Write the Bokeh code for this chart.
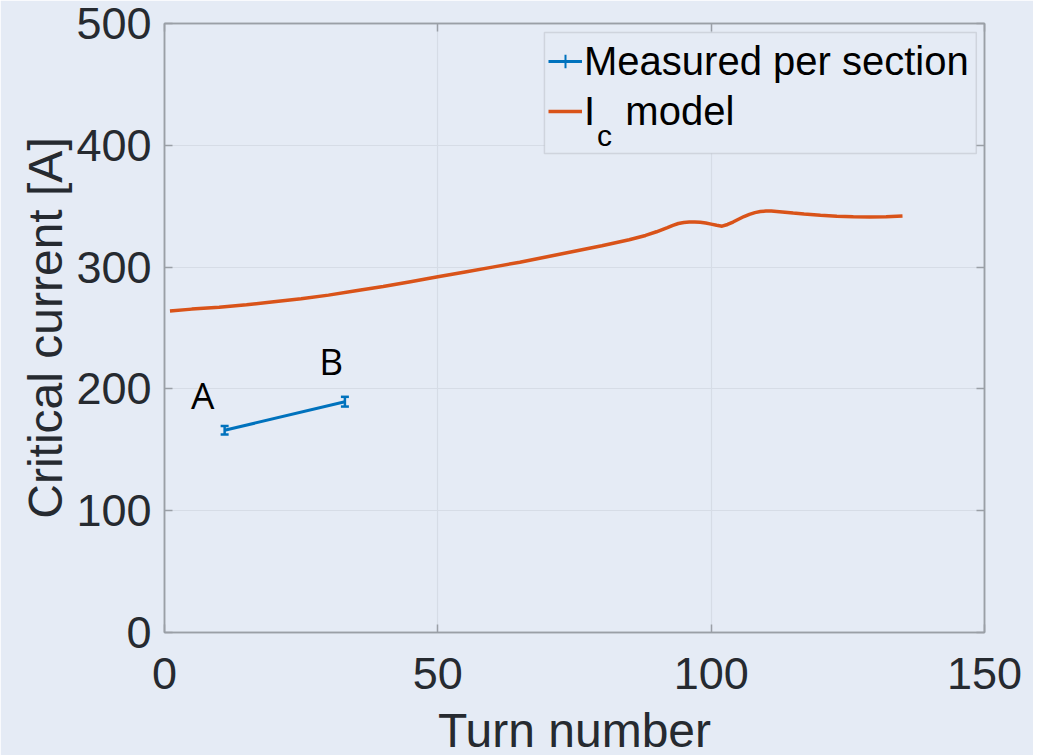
import numpy as np
from bokeh.plotting import figure
from bokeh.models import (ColumnDataSource, Whisker, TeeHead, Legend, LegendItem,
                          LinearAxis, Range1d, Label, FixedTicker, BoxAnnotation)
from bokeh.core.properties import value
from bokeh.embed import file_html
from bokeh.resources import INLINE

# ---- data ----
meas_turn = [11, 33]
meas_ic = [166, 189.5]
meas_err = [3.5, 4.0]

model_turn = [1, 5, 10, 15, 20, 25, 30, 35, 40, 45, 50, 55, 60, 65, 70, 75, 80, 85, 88,
              90, 92, 93, 94, 95, 96, 97, 98, 99, 100, 101, 102, 103, 104, 105, 106, 107,
              108, 109, 110, 111, 113, 115, 117, 120, 123, 126, 129, 132, 135]
model_ic = [264, 265.5, 267, 269, 271.5, 274, 277, 280.5, 284, 288, 292, 296, 300, 304,
            308.5, 313, 317.5, 322.5, 326, 329, 332.5, 334.3, 335.8, 336.6, 337, 337,
            336.8, 336.2, 335.3, 334.3, 333.6, 335, 337, 339.3, 341.5, 343.3, 344.7,
            345.6, 346, 346, 345.3, 344.4, 343.6, 342.6, 341.8, 341.3, 341.1, 341.3, 342]

x_ticks = [0, 50, 100, 150]
y_ticks = [0, 100, 200, 300, 400, 500]

point_labels = ["A", "B"]
point_label_x = [7, 30.5]
point_label_y = [195.5, 223.5]

# ---- styles ----
BG = "#e5ebf5"
AX = "#9a9fa6"
TXT = "#262a30"
GRID = "#d6dce6"
BLUE = "#0072bd"
ORANGE = "#d95319"
FONT = "Liberation Sans"

p = figure(frame_width=820, frame_height=609,
           x_range=Range1d(0, 150), y_range=Range1d(0, 500),
           output_backend="svg", toolbar_location=None,
           background_fill_color=BG, border_fill_color=BG,
           min_border_left=164, min_border_top=23, min_border_right=49,
           min_border_bottom=120)
p.outline_line_color = AX
p.outline_line_width = 1.5

p.xaxis.ticker = FixedTicker(ticks=x_ticks)
p.yaxis.ticker = FixedTicker(ticks=y_ticks)
for ax in (p.xaxis[0], p.yaxis[0]):
    ax.axis_line_color = AX
    ax.axis_line_width = 1.5
    ax.major_tick_line_color = AX
    ax.major_tick_line_width = 1.5
    ax.major_tick_in = 8
    ax.major_tick_out = 0
    ax.minor_tick_line_color = None
    ax.major_label_text_font = FONT
    ax.major_label_text_font_size = "45px"
    ax.major_label_text_color = TXT
    ax.axis_label_text_font = FONT
    ax.axis_label_text_font_size = "48px"
    ax.axis_label_text_font_style = "normal"
    ax.axis_label_text_color = TXT
p.xaxis.axis_label = "Turn number"
p.yaxis.axis_label = "Critical current [A]"
p.xaxis.major_label_standoff = 25
p.xaxis.axis_label_standoff = 12
p.yaxis.major_label_standoff = 13
p.yaxis.axis_label_standoff = 1

# mirrored tick marks on the top and right edges (no labels)
for ticks, place in ((x_ticks, "above"), (y_ticks, "right")):
    ax = LinearAxis(ticker=FixedTicker(ticks=ticks),
                    major_label_overrides={t: "" for t in ticks})
    ax.axis_line_color = AX
    ax.axis_line_width = 1.5
    ax.major_tick_line_color = AX
    ax.major_tick_line_width = 1.5
    ax.major_tick_in = 8
    ax.major_tick_out = 0
    ax.minor_tick_line_color = None
    ax.major_label_text_font_size = "1px"
    ax.major_label_standoff = 0
    p.add_layout(ax, place)

p.xgrid.ticker = FixedTicker(ticks=x_ticks)
p.ygrid.ticker = FixedTicker(ticks=y_ticks)
p.grid.grid_line_color = GRID
p.grid.grid_line_width = 1.2

# legend frame (drawn above the grid, below the glyphs)
p.add_layout(BoxAnnotation(left=69.5, right=148.5, top=492.6, bottom=393.3,
                           fill_color=BG, fill_alpha=1, line_color=AX, line_width=1.5,
                           level="underlay", propagate_hover=False))

# ---- model curve ----
model_line = p.line(model_turn, model_ic, line_color=ORANGE, line_width=3.5)

# ---- measured ----
meas_line = p.line(meas_turn, meas_ic, line_color=BLUE, line_width=3)
err_src = ColumnDataSource(dict(
    x=meas_turn,
    upper=[v + e for v, e in zip(meas_ic, meas_err)],
    lower=[v - e for v, e in zip(meas_ic, meas_err)],
))
wh = Whisker(base="x", upper="upper", lower="lower", source=err_src, dimension="height",
             line_color=BLUE, line_width=2.5,
             upper_head=TeeHead(size=8, line_color=BLUE, line_width=2.5),
             lower_head=TeeHead(size=8, line_color=BLUE, line_width=2.5))
p.add_layout(wh)
# legend-only proxy for the error-bar icon (no points drawn)
legend_proxy = p.scatter([np.nan], [np.nan], marker="cross", size=20,
                         line_color=BLUE, line_width=2)

# ---- point labels ----
p.text(x=point_label_x, y=point_label_y, text=point_labels,
       text_font=value("Open Sans"), text_font_size="37px",
       text_align="center", text_baseline="middle", text_color="black")

# ---- legend ----
legend = Legend(items=[
    LegendItem(label="Measured per section", renderers=[meas_line, legend_proxy]),
    LegendItem(label="I\u00a0\u00a0\u2009model", renderers=[model_line]),
], location=(384, 496))
legend.padding = 6
legend.spacing = 0
legend.margin = 0
legend.glyph_width = 34
legend.glyph_height = 50
legend.label_height = 50
legend.label_standoff = 2
legend.label_text_font = FONT
legend.label_text_font_size = "40px"
legend.label_text_color = "black"
legend.label_text_baseline = "middle"
legend.border_line_color = None
legend.background_fill_alpha = 0
p.add_layout(legend)

p.add_layout(Label(x=80.5, y=408, text="c", text_font=FONT, text_font_size="30px",
                   text_align="center", text_baseline="middle", text_color="black",
                   level="overlay"))

open("out.html", "w").write(file_html(p, INLINE))
